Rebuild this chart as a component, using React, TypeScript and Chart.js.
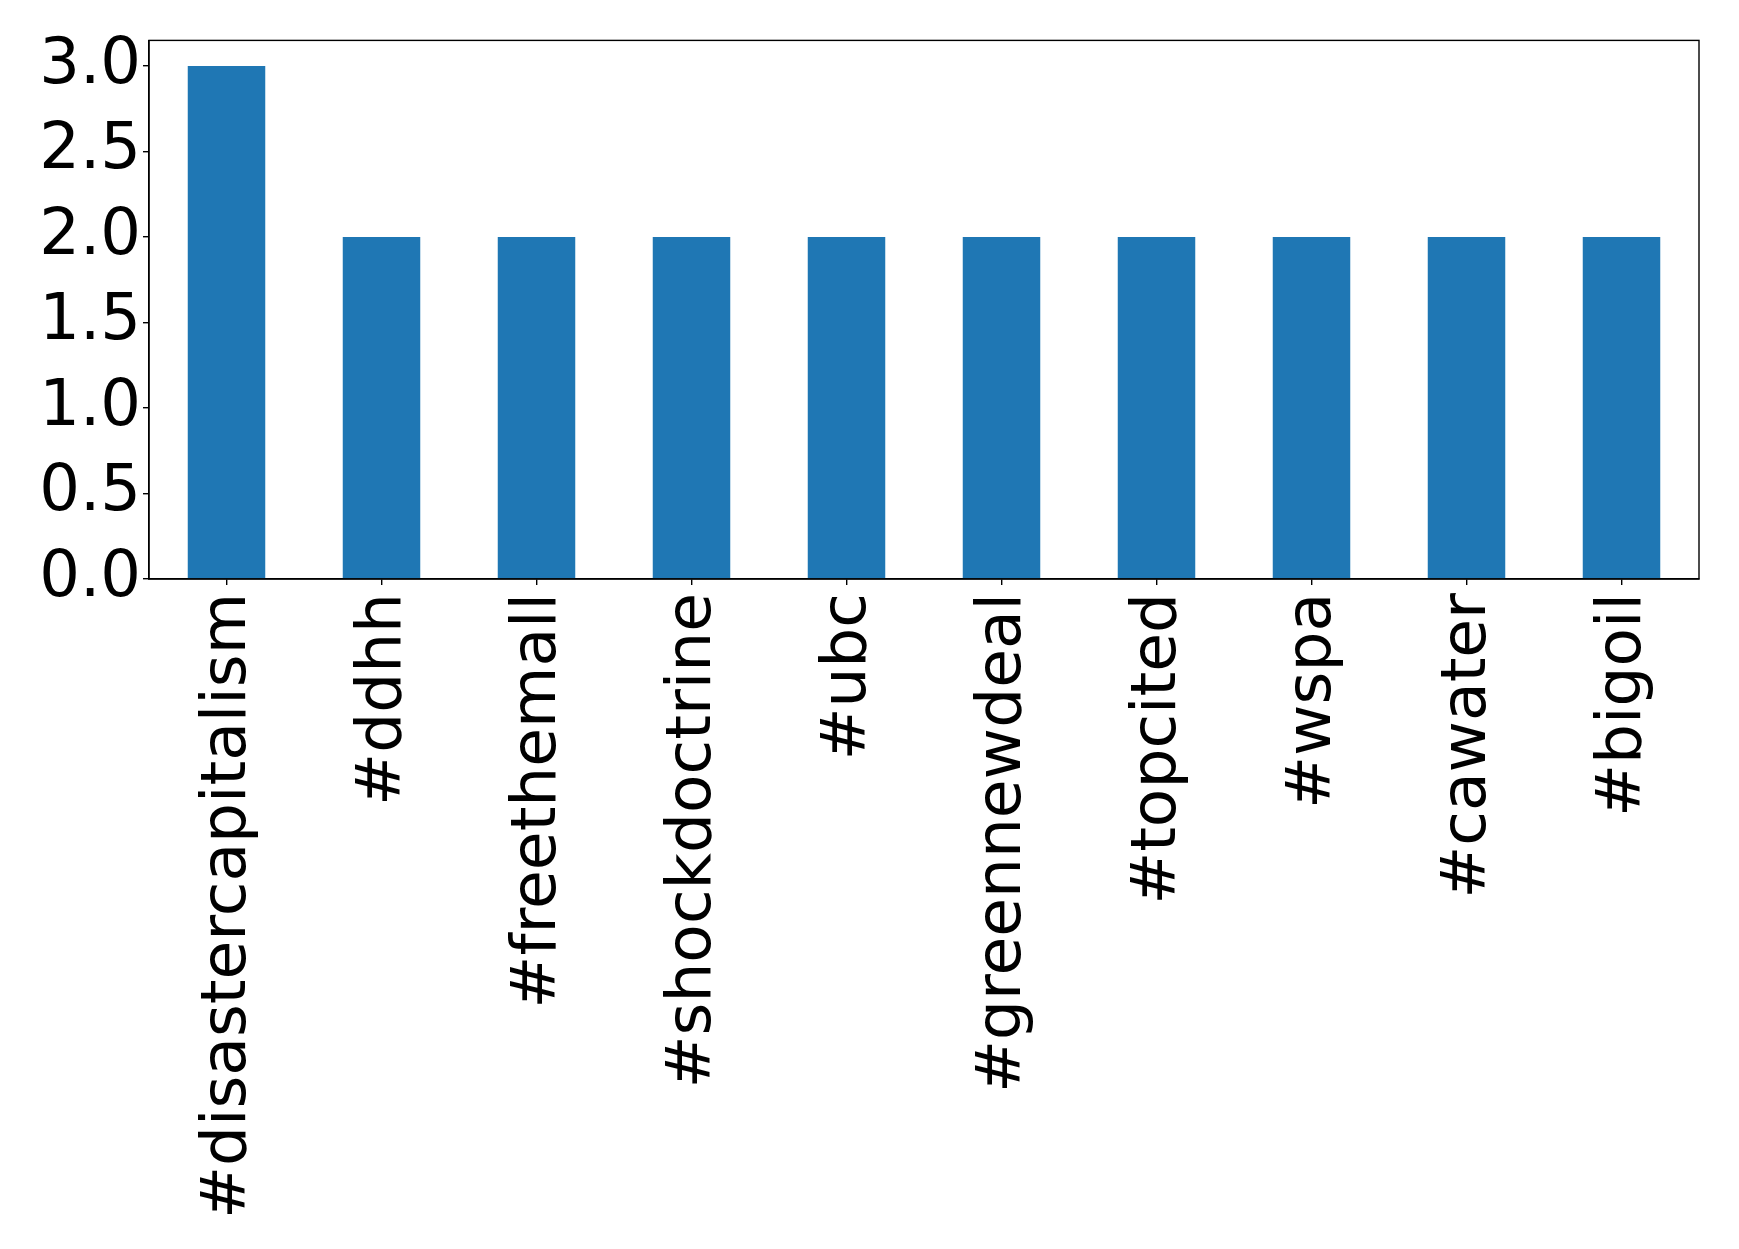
import React, { useEffect, useRef } from "react";
import { Chart, registerables } from "chart.js";

Chart.register(...registerables);

const categories = [
  "#disastercapitalism",
  "#ddhh",
  "#freethemall",
  "#shockdoctrine",
  "#ubc",
  "#greennewdeal",
  "#topcited",
  "#wspa",
  "#cawater",
  "#bigoil",
];
const counts = [3, 2, 2, 2, 2, 2, 2, 2, 2, 2];
const yTicks = [0, 0.5, 1.0, 1.5, 2.0, 2.5, 3.0];

const FONT = "'DejaVu Sans', sans-serif";

const framePlugin = {
  id: "frame",
  afterDraw(chart: any) {
    const { ctx, chartArea } = chart;
    ctx.save();
    ctx.strokeStyle = "#000";
    ctx.lineWidth = 1.4;
    ctx.strokeRect(chartArea.left, chartArea.top, chartArea.right - chartArea.left, chartArea.bottom - chartArea.top);
    ctx.restore();
  },
};

export default function App() {
  const ref = useRef<HTMLCanvasElement | null>(null);
  useEffect(() => {
    if (!ref.current) return;
    const chart = new Chart(ref.current, {
      type: "bar",
      data: {
        labels: categories,
        datasets: [
          {
            data: counts,
            backgroundColor: "#1f77b4",
            categoryPercentage: 1.0,
            barPercentage: 0.5,
          },
        ],
      },
      plugins: [framePlugin],
      options: {
        animation: false,
        responsive: false,
        maintainAspectRatio: false,
        layout: { padding: { left: 0, right: 40, top: 38, bottom: 0 } },
        plugins: { legend: { display: false }, tooltip: { enabled: false } },
        scales: {
          x: {
            grid: { display: true, offset: false, drawOnChartArea: false, drawTicks: true, tickLength: 6, color: "#000", lineWidth: 1.4 },
            border: { display: true, color: "#000", width: 1.4 },
            ticks: {
              color: "#000",
              font: { family: FONT, size: 63 },
              maxRotation: 90,
              minRotation: 90,
              autoSkip: false,
              padding: 8,
              labelOffset: 2,
            },
            afterFit(scale: any) {
              scale.height = 670;
            },
          },
          y: {
            min: 0,
            max: 3.15,
            afterBuildTicks(scale: any) {
              scale.ticks = yTicks.map((v) => ({ value: v }));
            },
            grid: { display: true, drawOnChartArea: false, drawTicks: true, tickLength: 6, color: "#000", lineWidth: 1.4 },
            border: { display: true, color: "#000", width: 1.4 },
            ticks: {
              color: "#000",
              font: { family: FONT, size: 64 },
              padding: 2,
              callback: (v: any) => Number(v).toFixed(1),
            },
            afterFit(scale: any) {
              scale.width = 149;
            },
          },
        },
      },
    });
    return () => chart.destroy();
  }, []);
  return (
    <div style={{ position: "fixed", left: 0, top: 0, width: 1739, height: 1249, background: "#fff" }}>
      <canvas ref={ref} width={1739} height={1249} style={{ width: 1739, height: 1249 }} />
    </div>
  );
}
